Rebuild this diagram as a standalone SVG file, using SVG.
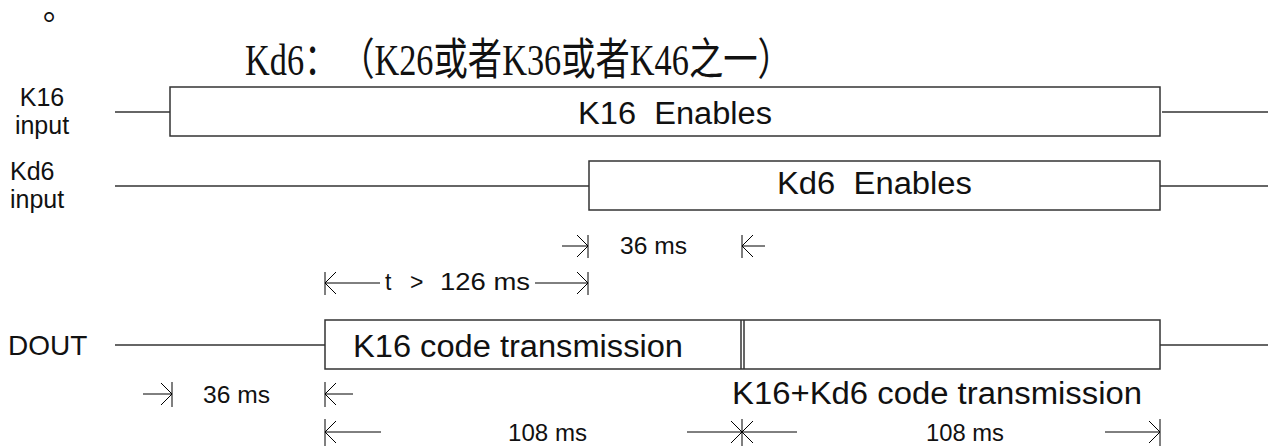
<svg xmlns="http://www.w3.org/2000/svg" width="1273" height="446" viewBox="0 0 1273 446">
<style>
.lbl{font-family:"Liberation Sans",Arial,sans-serif;fill:#111;}
.big{font-size:31px;}
.side{font-size:25px;}
.small{font-size:23px;}
.ttl{font-family:"Liberation Serif","Noto Sans CJK SC",serif;font-size:44px;fill:#111;}
.sig{fill:none;stroke:#333;stroke-width:1.5;}
.box{fill:#fff;stroke:#333;stroke-width:1.5;}
.arr{fill:none;stroke:#000;stroke-width:1;marker-end:url(#ah);}
.bar{fill:none;stroke:#000;stroke-width:1;}
</style>
<defs>
<marker id="ah" viewBox="-13 -13 14 26" refX="0" refY="0" markerWidth="14" markerHeight="26" markerUnits="userSpaceOnUse" orient="auto">
<path d="M-11,-11 L0,0 L-11,11" fill="none" stroke="#000" stroke-width="1"/>
</marker>
</defs>
<rect width="1273" height="446" fill="#fff"/>

<g id="mark">
<text x="33" y="29" font-family="'Noto Sans CJK TC',sans-serif" font-size="32" fill="#111">。</text>
</g>

<g id="title">
<text class="ttl" transform="translate(245,75) scale(0.78,1)" x="0" y="0">Kd6：<tspan x="122">（K26或者K36或者K46之一）</tspan></text>
</g>

<g id="connectors">
<line class="sig" x1="115" y1="112" x2="170" y2="112"/>
<line class="sig" x1="1162" y1="112" x2="1268" y2="112"/>
<line class="sig" x1="115" y1="186" x2="589" y2="186"/>
<line class="sig" x1="1160" y1="186" x2="1268" y2="186"/>
<line class="sig" x1="115" y1="345" x2="325" y2="345"/>
<line class="sig" x1="1160" y1="345" x2="1268" y2="345"/>
</g>

<g id="k16-input">
<text class="lbl side" x="42" y="106" text-anchor="middle">K16</text>
<text class="lbl side" x="42" y="134" text-anchor="middle">input</text>
<rect class="box" x="170" y="87" width="990" height="49"/>
<text class="lbl big" x="578" y="124" textLength="194" lengthAdjust="spacingAndGlyphs">K16&#160; Enables</text>
</g>

<g id="kd6-input">
<text class="lbl side" x="10" y="180">Kd6</text>
<text class="lbl side" x="10" y="208">input</text>
<rect class="box" x="589" y="161" width="571" height="49"/>
<text class="lbl big" x="777" y="194" textLength="195" lengthAdjust="spacingAndGlyphs">Kd6&#160; Enables</text>
</g>

<g id="dout">
<text class="lbl" x="8" y="355" style="font-size:28px">DOUT</text>
<rect class="box" x="325" y="320" width="835" height="49"/>
<line class="sig" x1="741" y1="320" x2="741" y2="369"/>
<line class="sig" x1="744" y1="320" x2="744" y2="369"/>
<text class="lbl big" x="353" y="357" textLength="330" lengthAdjust="spacingAndGlyphs">K16 code transmission</text>
<text class="lbl big" x="732" y="404" textLength="410" lengthAdjust="spacingAndGlyphs">K16+Kd6 code transmission</text>
</g>

<g id="timing">
<line class="arr" x1="562" y1="246" x2="588" y2="246"/>
<line class="bar" x1="588" y1="235" x2="588" y2="258"/>
<line class="arr" x1="765" y1="246" x2="742" y2="246"/>
<line class="bar" x1="742" y1="235" x2="742" y2="258"/>
<text class="lbl small" x="620" y="254" textLength="67" lengthAdjust="spacingAndGlyphs">36 ms</text>
<line class="arr" x1="380" y1="283" x2="325" y2="283"/>
<line class="bar" x1="325" y1="272" x2="325" y2="295"/>
<line class="arr" x1="535" y1="283" x2="588" y2="283"/>
<line class="bar" x1="588" y1="272" x2="588" y2="295"/>
<text class="lbl small" x="385" y="290">t</text>
<text class="lbl small" x="410" y="290">&gt;</text>
<text class="lbl small" x="440" y="290" textLength="90" lengthAdjust="spacingAndGlyphs">126 ms</text>
<line class="arr" x1="143" y1="394" x2="172" y2="394"/>
<line class="bar" x1="172" y1="382" x2="172" y2="407"/>
<line class="arr" x1="353" y1="394" x2="325" y2="394"/>
<line class="bar" x1="325" y1="382" x2="325" y2="407"/>
<text class="lbl small" x="203" y="403" textLength="67" lengthAdjust="spacingAndGlyphs">36 ms</text>
<line class="arr" x1="381" y1="432" x2="325" y2="432"/>
<line class="bar" x1="325" y1="419" x2="325" y2="446"/>
<line class="arr" x1="687" y1="432" x2="742" y2="432"/>
<line class="arr" x1="797" y1="432" x2="742" y2="432"/>
<line class="bar" x1="742" y1="419" x2="742" y2="446" stroke-width="2"/>
<line class="arr" x1="1105" y1="432" x2="1160" y2="432"/>
<line class="bar" x1="1160" y1="419" x2="1160" y2="446"/>
<text class="lbl small" x="508" y="441" textLength="79" lengthAdjust="spacingAndGlyphs">108 ms</text>
<text class="lbl small" x="926" y="441" textLength="78" lengthAdjust="spacingAndGlyphs">108 ms</text>
</g>
</svg>
